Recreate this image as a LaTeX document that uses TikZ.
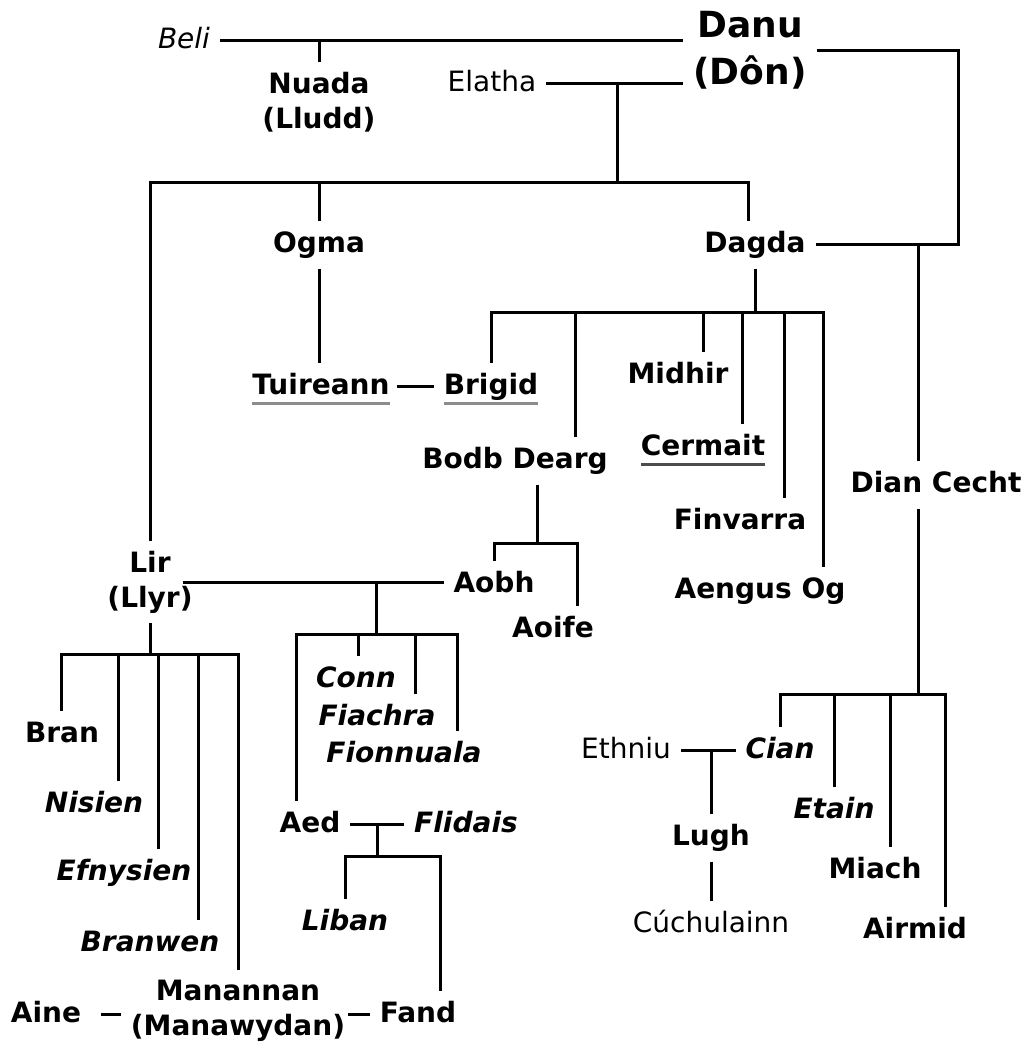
\documentclass[tikz,border=0pt]{standalone}
\usepackage{fontspec}
\setmainfont{DejaVu Sans}
\newcommand\gund[2]{\setbox0\hbox{#2}\rlap{\color{#1}\rule[-10.5pt]{\wd0}{3pt}}\box0}
\begin{document}
\begin{tikzpicture}[x=1pt,y=-1pt,
    deity/.style={inner sep=0pt,outer sep=10pt,font=\fontsize{28}{35}\selectfont\bfseries},
    oneline/.style={deity,text height=21.3pt,text depth=6.7pt,anchor=base},
    twoline/.style={deity,align=center},
    bi/.style={oneline,font=\fontsize{28}{35}\selectfont\bfseries\itshape},
    kin/.style={oneline,font=\fontsize{28}{35}\selectfont},
    rel/.style={line width=3pt}]
\useasboundingbox (0,0) rectangle (1028,1047);
% first generations
\node[kin,font=\fontsize{28}{35}\selectfont\itshape] (beli) at (184,48) {Beli};
\node[twoline,font=\fontsize{36}{47}\selectfont\bfseries] (danu) at (750,50) {Danu\\(Dôn)};
\node[twoline] (nuada) at (319,102) {Nuada\\(Lludd)};
\node[kin] (elatha) at (492,91) {Elatha};
\node[oneline] (ogma) at (319,252) {Ogma};
\node[oneline] (dagda) at (755,252) {Dagda};
\node[twoline] (lir) at (150,582) {Lir\\(Llyr)};
\node[oneline] (diancecht) at (936,492) {Dian Cecht};
\node[oneline] (tuireann) at (321,394) {\gund{black!45}{Tuireann}};
% Dagda's children
\foreach \n/\x/\y/\t in {brigid/491/394/\gund{black!45}{Brigid}, bodb/515/468/Bodb Dearg,
    midhir/678/383/Midhir, cermait/703/455/\gund{black!70}{Cermait},
    finvarra/740/529/Finvarra, aengus/760/598/Aengus Og}
    \node[oneline] (\n) at (\x,\y) {\t};
\node[oneline] (aobh) at (494,592) {Aobh};
\node[oneline] (aoife) at (553,637) {Aoife};
% Lir's children
\node[oneline] (bran) at (62,742) {Bran};
\foreach \n/\x/\y/\t in {nisien/94/812/Nisien, efnysien/124/880/Efnysien, branwen/150/951/Branwen,
    conn/356/687/Conn, fiachra/377/725/Fiachra, fionnuala/404/762/Fionnuala}
    \node[bi] (\n) at (\x,\y) {\t};
\node[twoline] (manannan) at (238,1011) {Manannan\\(Manawydan)};
\node[oneline] (aine) at (46,1022) {Aine};
\node[oneline] (aed) at (310,832) {Aed};
\node[bi] (flidais) at (466,832) {Flidais};
\node[bi] (liban) at (345,930) {Liban};
\node[oneline] (fand) at (418,1022) {Fand};
% Dian Cecht's line
\node[kin] (ethniu) at (626,758) {Ethniu};
\node[bi] (cian) at (780,758) {Cian};
\node[bi] (etain) at (834,818) {Etain};
\node[oneline] (miach) at (875,878) {Miach};
\node[oneline] (airmid) at (915,938) {Airmid};
\node[oneline] (lugh) at (711,845) {Lugh};
\node[kin] (cuchulainn) at (711,932) {Cúchulainn};

\coordinate (edKids) at (617,182);
\coordinate (dcRail) at (958,150);
\coordinate (dagdaKids) at (755,312);
\coordinate (bodbKids) at (537,543);
\coordinate (lirKids) at (150,654);
\coordinate (laKids) at (376,634);
\coordinate (afKids) at (377,856);
\coordinate (dcKids) at (918,694);

\draw[rel] (beli.east) -- (beli.east -| danu.west);
\draw[rel] (nuada.north) -- (nuada.north |- beli.east);
\draw[rel] (elatha.east) -- (elatha.east -| danu.west);
\draw[rel] (edKids) -- (edKids |- elatha.east);
\draw[rel] (lir.north) |- (edKids);
\draw[rel] (ogma.north) |- (edKids);
\draw[rel] ([xshift=-7pt]dagda.north) |- (edKids);
\draw[rel] (danu.east) -| (dcRail) |- (dagda.east);
\draw[rel] ([xshift=-18pt]diancecht.north) |- (dagda.east);
\draw[rel] (ogma) -- (ogma |- tuireann.north);
\draw[rel] ([xshift=-3pt]tuireann.east) -- (brigid);
\draw[rel] (dagda) -- (dagdaKids);
\foreach \n/\s in {brigid/0, bodb/60, midhir/25, cermait/39, finvarra/44, aengus/63}
    \draw[rel] ([xshift=\s pt]\n.north) |- (dagdaKids);
\draw[rel] ([xshift=22pt]bodb.south) -- (bodbKids);
\draw[rel] (aobh.north) |- (bodbKids);
\draw[rel] ([xshift=24pt]aoife.north) |- (bodbKids);
\draw[rel] ([xshift=-20pt]lir.east) -- (lir.east -| aobh.west);
\draw[rel] (laKids) -- (laKids |- lir.east);
\foreach \n/\s in {aed/-14, conn/2, fiachra/38, fionnuala/53}
    \draw[rel] ([xshift=\s pt]\n.north) |- (laKids);
\draw[rel] (lir) -- (lirKids);
\foreach \n/\s in {bran/-1, nisien/24, efnysien/34, branwen/48, manannan/0}
    \draw[rel] ([xshift=\s pt]\n.north) |- (lirKids);
\draw[rel] ([xshift=10pt]aine.east) -- (aine.east -| manannan.west);
\draw[rel] ([xshift=-7pt]fand.west -| manannan.east) -- (fand.west);
\draw[rel] (aed) -- (flidais);
\draw[rel] (afKids) -- (afKids |- aed.east);
\draw[rel] (liban.north) |- (afKids);
\draw[rel] ([xshift=22pt]fand.north) |- (afKids);
\draw[rel] ([xshift=-18pt]diancecht.south) -- (dcKids);
\foreach \n/\s in {cian/0, etain/0, miach/15, airmid/30}
    \draw[rel] ([xshift=\s pt]\n.north) |- (dcKids);
\draw[rel] (ethniu) -- (cian);
\draw[rel] (lugh.north) -- (lugh.north |- ethniu.east);
\draw[rel] (lugh) -- (cuchulainn);
\end{tikzpicture}
\end{document}
